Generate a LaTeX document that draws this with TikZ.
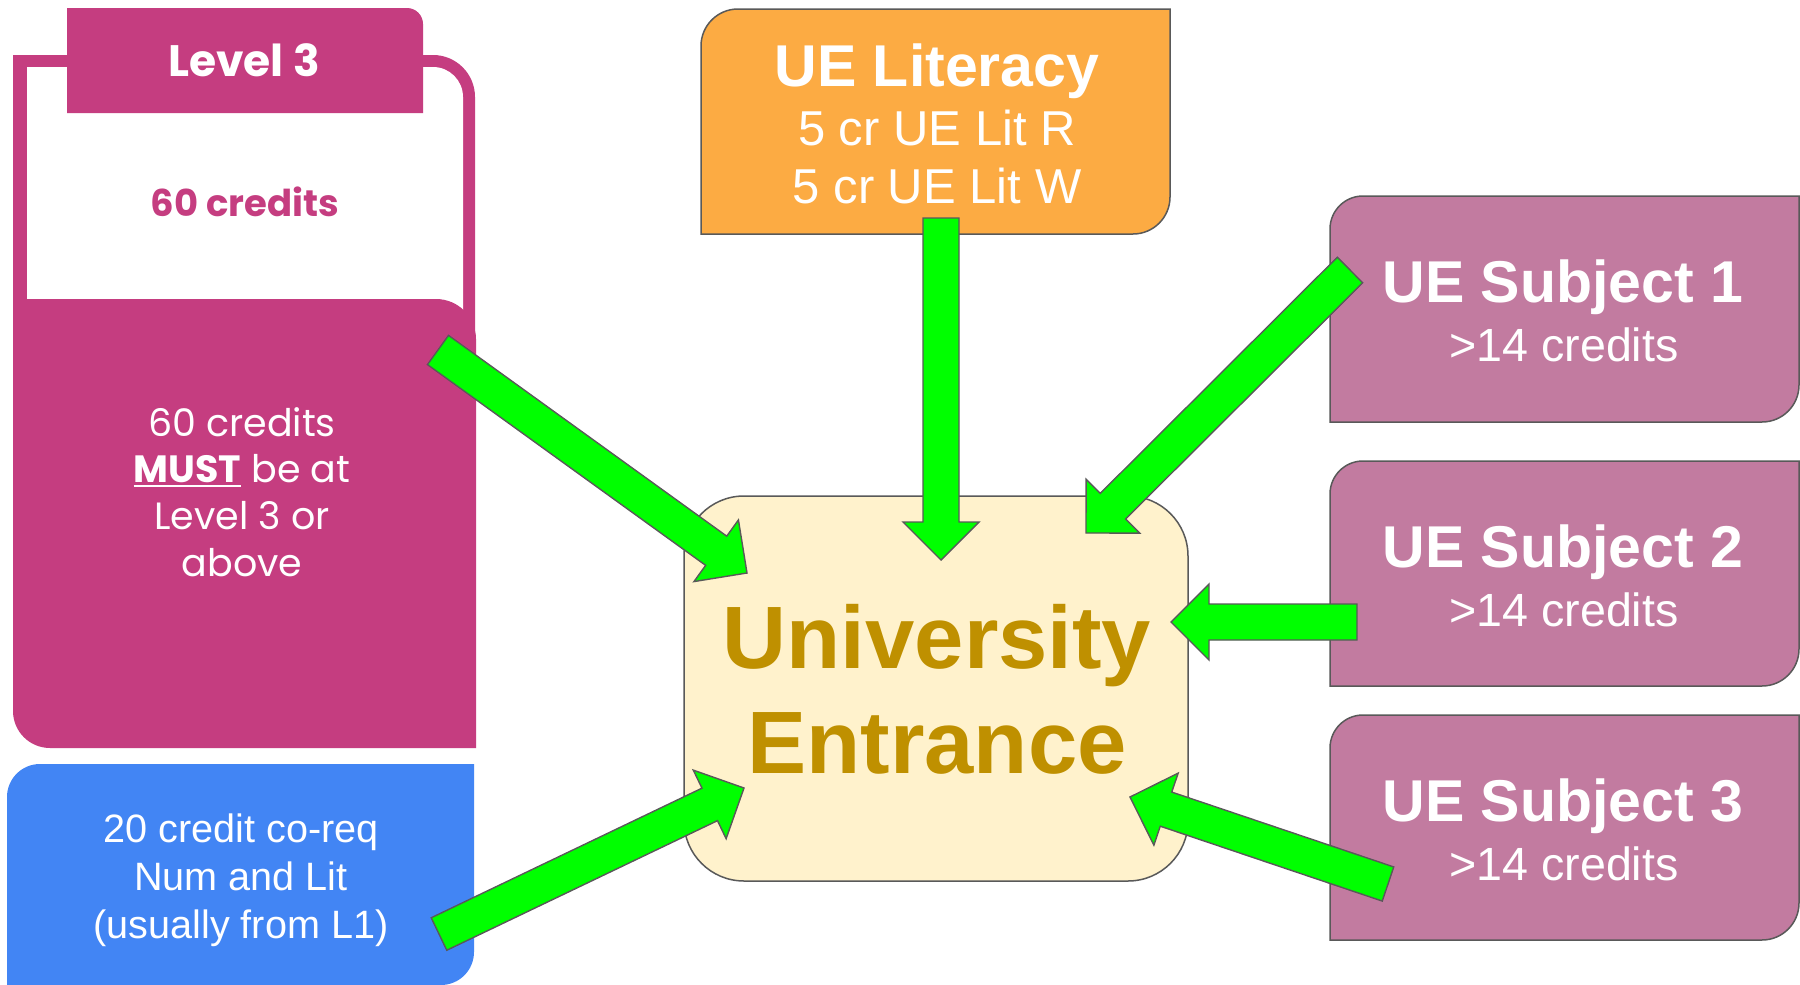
\documentclass[tikz,border=0pt]{standalone}
\usepackage{fontspec}
\setmainfont{Liberation Sans}
\newfontfamily\pop{Poppins}
\usetikzlibrary{calc}
\definecolor{magL}{RGB}{197,61,128}
\definecolor{blueC}{RGB}{66,133,244}
\definecolor{orangeC}{RGB}{252,171,67}
\definecolor{subjC}{RGB}{194,123,160}
\definecolor{ueFill}{RGB}{255,242,204}
\definecolor{ueText}{RGB}{191,144,0}
\definecolor{greenC}{RGB}{0,255,0}
\definecolor{grayC}{RGB}{89,89,89}
% rounded box path: x1 y1 x2 y2 rTL rTR rBR rBL (y grows downwards)
\newcommand\rbox[8]{(#1,#2+#5) .. controls (#1,#2+0.448*#5) and (#1+0.448*#5,#2) .. (#1+#5,#2)
 -- (#3-#6,#2) .. controls (#3-0.448*#6,#2) and (#3,#2+0.448*#6) .. (#3,#2+#6)
 -- (#3,#4-#7) .. controls (#3,#4-0.448*#7) and (#3-0.448*#7,#4) .. (#3-#7,#4)
 -- (#1+#8,#4) .. controls (#1+0.448*#8,#4) and (#1,#4-0.448*#8) .. (#1,#4-#8) -- cycle}
\newcommand\garrow[2]{%
  \coordinate (hb#2) at ($(#2)!19pt!(#1)$);
  \filldraw[blockarrow] ($(#1)!9pt!90:(#2)$) -- ($(hb#2)!9pt!90:(#2)$) -- ($(hb#2)!19pt!90:(#2)$)
    -- (#2) -- ($(hb#2)!19pt!-90:(#2)$) -- ($(hb#2)!9pt!-90:(#2)$) -- ($(#1)!9pt!-90:(#2)$) -- cycle;}
\newcommand\ulbold[1]{{\setbox0\hbox{\bfseries #1}\rlap{\rule[-2.6pt]{\wd0}{0.9pt}}\box0}}
\begin{document}
\begin{tikzpicture}[x=0.5pt,y=-0.5pt,
  txt/.style={anchor=base,inner sep=0pt,align=center},
  boxline/.style={draw=grayC,line width=0.75pt},
  blockarrow/.style={fill=greenC,draw=grayC,line width=0.7pt,line join=miter}]
\useasboundingbox (0,0) rectangle (1800,985);
\fill[white] (0,0) rectangle (1800,985);
% Level 3 card
\fill[magL] \rbox{13}{55}{475}{330}{0}{42}{0}{0};
\fill[white] \rbox{27}{67}{463}{330}{0}{30}{0}{0};
\fill[magL] \rbox{13}{299}{476}{748}{0}{40}{0}{37};
\fill[magL] \rbox{67}{8}{423}{113}{0}{16}{0}{0};
\node[txt,text=white,font=\pop\bfseries\fontsize{22}{26}\selectfont] (l3title) at (244,76) {Level 3};
\node[txt,text=magL,font=\pop\bfseries\fontsize{18.5}{22}\selectfont] (l3cred) at (245,216) {60 credits};
\node[txt,text=white,font=\pop\fontsize{19}{23}\selectfont] (l3a) at (242,436) {60 credits};
\node[txt,text=white,font=\pop\fontsize{19}{23}\selectfont] (l3b) at (242,482) {\ulbold{MUST} be at};
\node[txt,text=white,font=\pop\fontsize{19}{23}\selectfont] (l3c) at (242,529) {Level 3 or};
\node[txt,text=white,font=\pop\fontsize{19}{23}\selectfont] (l3d) at (242,576) {above};
% co-req box
\fill[blueC] \rbox{7}{764}{474}{985}{33}{0}{33}{0};
\node[txt,text=white,font=\fontsize{19.8}{24}\selectfont] (co1) at (241,842) {20 credit co-req};
\node[txt,text=white,font=\fontsize{19.8}{24}\selectfont] (co2) at (241,890) {Num and Lit};
\node[txt,text=white,font=\fontsize{19.8}{24}\selectfont] (co3) at (241,938) {(usually from L1)};
% UE Literacy
\filldraw[fill=orangeC,boxline] \rbox{701}{9}{1170}{234}{37}{0}{37}{0};
\node[txt,text=white,font=\bfseries\fontsize{29.5}{36}\selectfont] (lit1) at (937,86) {UE Literacy};
\node[txt,text=white,font=\fontsize{24.5}{29}\selectfont] (lit2) at (937,145) {5 cr UE Lit R};
\node[txt,text=white,font=\fontsize{24.5}{29}\selectfont] (lit3) at (937,203) {5 cr UE Lit W};
% Subjects
\filldraw[fill=subjC,boxline] \rbox{1330}{196}{1799}{422}{33}{0}{37}{0};
\filldraw[fill=subjC,boxline] \rbox{1330}{461}{1799}{686}{33}{0}{37}{0};
\filldraw[fill=subjC,boxline] \rbox{1330}{715}{1799}{940}{33}{0}{37}{0};
\node[txt,text=white,font=\bfseries\fontsize{29.5}{36}\selectfont] (s1a) at (1563,302) {UE Subject 1};
\node[txt,text=white,font=\fontsize{23.3}{28}\selectfont] (s1b) at (1564,361) {>14 credits};
\node[txt,text=white,font=\bfseries\fontsize{29.5}{36}\selectfont] (s2a) at (1563,567) {UE Subject 2};
\node[txt,text=white,font=\fontsize{23.3}{28}\selectfont] (s2b) at (1564,626) {>14 credits};
\node[txt,text=white,font=\bfseries\fontsize{29.5}{36}\selectfont] (s3a) at (1563,821) {UE Subject 3};
\node[txt,text=white,font=\fontsize{23.3}{28}\selectfont] (s3b) at (1564,880) {>14 credits};
% University Entrance
\filldraw[fill=ueFill,boxline] \rbox{684}{496}{1188}{881}{60}{60}{60}{60};
\node[txt,text=ueText,font=\bfseries\fontsize{44.3}{52}\selectfont] (ue1) at (937,668) {University};
\node[txt,text=ueText,font=\bfseries\fontsize{44.3}{52}\selectfont] (ue2) at (937,773) {Entrance};
% arrow ends
\coordinate (t1) at (438,350);  \coordinate (e1) at (747,573);
\coordinate (t2) at (941,218);  \coordinate (e2) at (941,560);
\coordinate (t3) at (1350,270); \coordinate (e3) at (1086,533);
\coordinate (t4) at (1357,622); \coordinate (e4) at (1171,622);
\coordinate (t5) at (439,934);  \coordinate (e5) at (744,788);
\coordinate (t6) at (1388,884); \coordinate (e6) at (1130,797);
\garrow{t1}{e1}
\garrow{t2}{e2}
\garrow{t3}{e3}
\garrow{t4}{e4}
\garrow{t5}{e5}
\garrow{t6}{e6}
\end{tikzpicture}
\end{document}
